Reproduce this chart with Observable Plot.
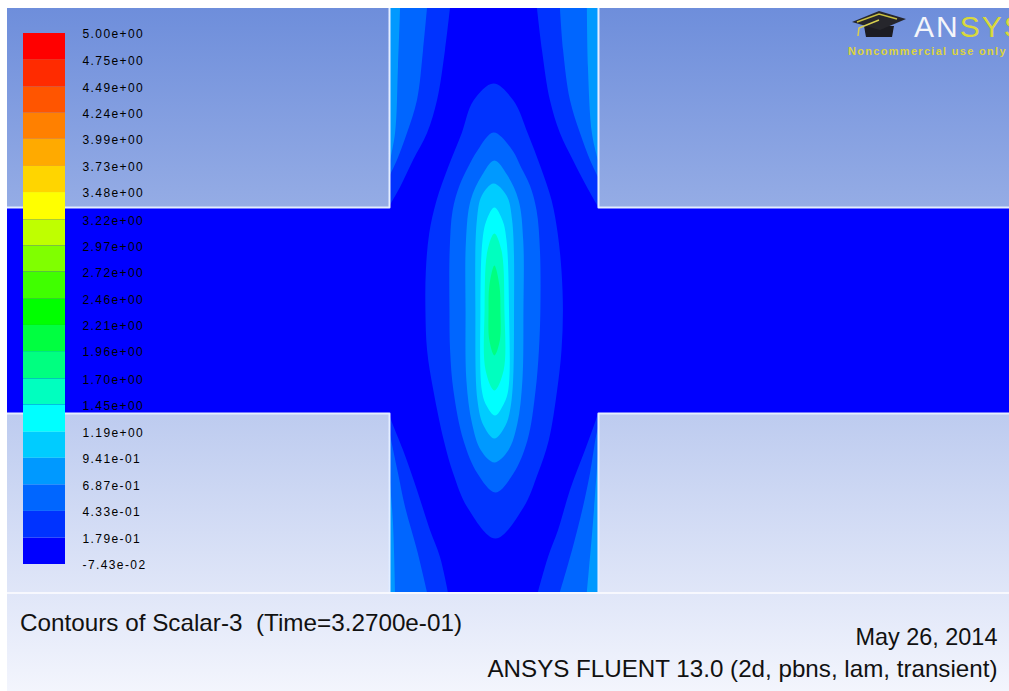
<!DOCTYPE html>
<html><head><meta charset="utf-8">
<script src="https://cdn.jsdelivr.net/npm/d3@7"></script>
<script src="https://cdn.jsdelivr.net/npm/@observablehq/plot@0.6"></script>
<style>
html,body{margin:0;padding:0;background:#fff;overflow:hidden;width:1009px;height:691px;}
#frame{position:absolute;left:7px;top:8px;width:1002px;height:683px;overflow:hidden;
 background:linear-gradient(to bottom, rgb(110,142,219), rgb(243,245,253));}
#main,#bar,#logo{position:absolute;left:0;top:0;}
#sep{position:absolute;left:0;top:584px;width:1002px;height:2px;background:#f7f8fe;}
.cap{position:absolute;font-family:"Liberation Sans",Arial,sans-serif;font-size:24px;line-height:24px;color:#111;white-space:pre;}
</style></head>
<body>
<div id="frame">
 <div id="main"></div>
 <div id="bar"></div>
 <svg id="logo" style="left:838px;top:0px" width="70" height="36">
  <polygon points="19,18 49,18 47,29 21,29" fill="#1c1c22"/>
  <polygon points="7,14 34,3 61,11 35,22" fill="#26262c"/>
  <polyline points="12,14 34,6 52,11" fill="none" stroke="#c8c040" stroke-width="1.5"/>
  <polyline points="34,12 14,20 13,28" fill="none" stroke="#d8d050" stroke-width="1.5"/>
 </svg>
 <div class="cap" style="left:907px;top:4px;font-size:30px;line-height:30px;letter-spacing:2px;"><span style="color:#f4f5fa">AN</span><span style="color:#d9d83a">SYS</span></div>
 <div class="cap" style="left:841px;top:38px;font-size:11px;line-height:11px;font-weight:bold;letter-spacing:1.3px;color:#ddd43c">Noncommercial use only</div>
 <div id="sep"></div>
 <div class="cap fit" data-w="442" data-o="left" style="left:13px;top:603px;">Contours of Scalar-3  (Time=3.2700e-01)</div>
 <div class="cap fit" data-w="142" data-o="right" style="right:12px;top:617px;">May 26, 2014</div>
 <div class="cap fit" data-w="510" data-o="right" style="right:12px;top:649px;">ANSYS FLUENT 13.0 (2d, pbns, lam, transient)</div>
</div>
<script>
// ---- contour levels (colour-bar tick labels, bottom to top) ----
const labels = ["-7.43e-02","1.79e-01","4.33e-01","6.87e-01","9.41e-01","1.19e+00","1.45e+00",
  "1.70e+00","1.96e+00","2.21e+00","2.46e+00","2.72e+00","2.97e+00","3.22e+00","3.48e+00",
  "3.73e+00","3.99e+00","4.24e+00","4.49e+00","4.75e+00","5.00e+00"];
const levels = labels.map(Number);
const bandColors = ["#0000ff","#0033ff","#0066ff","#0099ff","#00ccff","#00ffff","#00ffbf","#00ff80",
  "#00ff40","#00ff00","#40ff00","#80ff00","#bfff00","#ffff00","#ffd500","#ffaa00","#ff8000",
  "#ff5500","#ff2b00","#ff0000"];

// ---- geometry (mm): visible extent, channel half width ----
const domainX = [-23.28, 24.67];
const domainY = [-13.69, 14.66];
const half = 5;

// ---- central plume: rows [y, xLeft, xRight] of each contour level ----
const ring1 = [[11.02,-0.02,-0.02],[10.19,-0.98,0.93],[8.59,-1.55,1.62],[6.94,-2.20,2.24],[5.34,-2.75,2.76],
  [3.74,-3.10,3.05],[1.94,-3.26,3.23],[0,-3.28,3.30],[-1.94,-3.20,3.23],[-3.88,-2.90,3.02],[-6.31,-2.40,2.62],
  [-7.91,-1.95,2.10],[-9.56,-1.27,1.41],[-11.07,0.07,0.07]];
const ring2 = [[8.64,-0.02,-0.02],[7.77,-0.79,0.89],[6.94,-1.25,1.30],[6.07,-1.65,1.72],[4.85,-1.98,2.04],
  [2.91,-2.12,2.20],[0,-2.13,2.22],[-1.94,-2.10,2.15],[-3.88,-1.94,1.99],[-6.31,-1.46,1.60],[-7.91,-0.79,0.93],
  [-8.83,0.07,0.07]];
const ring3 = [[7.28,0.02,0.02],[6.55,-0.58,0.65],[5.34,-1.12,1.18],[3.40,-1.34,1.40],[0,-1.36,1.41],
  [-3.40,-1.32,1.36],[-5.49,-1.05,1.12],[-6.80,-0.62,0.68],[-7.38,0.02,0.02]];
const ring4 = [[6.17,-0.02,-0.02],[5.58,-0.58,0.60],[4.37,-0.82,0.87],[0,-0.89,0.96],[-4.37,-0.79,0.84],
  [-5.58,-0.50,0.55],[-6.21,0.02,0.02]];
const ring5 = [[5.00,0.02,0.02],[4.37,-0.36,0.41],[3.40,-0.55,0.60],[0,-0.65,0.72],[-3.88,-0.58,0.68],
  [-4.61,-0.36,0.43],[-5.10,0.05,0.05]];
const ring6 = [[3.74,0.02,0.02],[2.91,-0.31,0.36],[0,-0.45,0.50],[-2.91,-0.40,0.46],[-3.88,0.02,0.02]];
const ring7 = [[2.18,0.02,0.02],[1.21,-0.22,0.26],[0,-0.26,0.31],[-1.46,-0.22,0.28],[-2.18,0.02,0.02]];
const rings = [ring1, ring2, ring3, ring4, ring5, ring6, ring7];

// ---- wall layers in the vertical arms: rows [y, xBoundary] ----
const upLeft = [
  [[14.66,-2.08],[12.62,-2.32],[10.19,-2.70],[8.59,-3.18],[7.28,-3.85],[5.97,-4.47],[5.19,-4.90],[5.00,-5.00]],
  [[14.66,-3.18],[12.62,-3.37],[10.19,-3.66],[8.59,-4.14],[7.28,-4.62],[6.46,-5.00]],
  [[14.66,-4.47],[11.80,-4.57],[8.59,-4.71],[7.04,-5.00]]];
const upRight = [
  [[14.66,2.08],[12.62,2.32],[10.19,2.70],[8.59,3.18],[7.28,3.80],[5.97,4.47],[5.19,4.90],[5.00,5.00]],
  [[14.66,3.18],[12.62,3.33],[10.19,3.66],[8.59,4.14],[7.28,4.62],[6.46,5.00]],
  [[14.66,4.47],[11.80,4.52],[8.59,4.71],[7.28,5.00]]];
const lowLeft = [
  [[-5.00,-5.00],[-5.34,-4.90],[-6.80,-4.33],[-8.74,-3.66],[-10.68,-3.04],[-11.99,-2.56],[-13.69,-2.18]],
  [[-5.83,-5.00],[-6.31,-4.90],[-7.91,-4.57],[-9.56,-4.23],[-11.65,-3.66],[-13.69,-3.18]],
  [[-7.77,-5.00],[-10.34,-4.81],[-13.69,-4.71]]];
const lowRight = [
  [[-5.00,5.00],[-5.34,4.90],[-6.80,4.38],[-8.74,3.66],[-10.68,3.09],[-11.99,2.61],[-13.69,2.13]],
  [[-5.73,5.00],[-6.17,4.90],[-7.91,4.62],[-9.56,4.28],[-11.65,3.76],[-13.69,3.18]],
  [[-7.04,5.00],[-10.34,4.76],[-13.69,4.47]]];

const colorScale = {type: "threshold", domain: levels.slice(1, 20), range: bandColors};

function ringPolygon(rows, level) {
  const pts = rows.map(([y, xl, xr]) => ({x: xr, y, v: levels[level]}));
  for (let i = rows.length - 1; i >= 0; i--) {
    const [y, xl, xr] = rows[i];
    if (xl !== xr) pts.push({x: xl, y, v: levels[level]});
  }
  return pts;
}

const marks = [];
// fluid domain (cross-shaped channel), lowest band
const fluid = [
  {x1: domainX[0], x2: domainX[1], y1: -half, y2: half},
  {x1: -half, x2: half, y1: domainY[0], y2: domainY[1]}];
marks.push(Plot.rect(fluid, {x1: "x1", x2: "x2", y1: "y1", y2: "y2", fill: () => levels[0]}));
// wall layers
[[upLeft, -1], [upRight, 1], [lowLeft, -1], [lowRight, 1]].forEach(([layers, side]) => {
  layers.forEach((rows, i) => {
    marks.push(Plot.areaX(rows, {y: r => r[0], x1: () => side * half, x2: r => r[1],
      fill: () => levels[i + 1], curve: "catmull-rom"}));
  });
});
// plume
rings.forEach((rows, i) => {
  marks.push(Plot.line(ringPolygon(rows, i + 1), {x: "x", y: "y", fill: "v", stroke: null,
    curve: "catmull-rom-closed"}));
});
// channel walls
const walls = [
  [[domainX[0], half], [-half, half], [-half, domainY[1]]],
  [[half, domainY[1]], [half, half], [domainX[1], half]],
  [[domainX[0], -half], [-half, -half], [-half, domainY[0]]],
  [[half, domainY[0]], [half, -half], [domainX[1], -half]]];
walls.forEach(w => marks.push(Plot.line(w, {x: d => d[0], y: d => d[1], stroke: "#e4eeff", strokeWidth: 2})));

const main = Plot.plot({
  width: 1002, height: 584, margin: 0,
  x: {domain: domainX, axis: null},
  y: {domain: domainY, axis: null},
  color: colorScale,
  style: {background: "none"},
  marks
});
document.getElementById("main").appendChild(main);

// ---- colour bar ----
const labelOf = new Map(levels.map((v, i) => [v, labels[i]]));
const bar = Plot.plot({
  width: 170, height: 584, marginTop: 25, marginBottom: 28, marginLeft: 16, marginRight: 170 - 58,
  x: {domain: [0, 1], axis: null},
  y: {domain: [levels[0], levels[20]], axis: null},
  color: colorScale,
  style: {background: "none", fontFamily: "'Liberation Sans', Arial, sans-serif", fontSize: "12px",
    letterSpacing: "1.4px", color: "#000", overflow: "visible"},
  marks: [
    Plot.rect(d3.range(20), {x1: 0, x2: 1, y1: i => levels[i], y2: i => levels[i + 1], fill: i => levels[i]}),
    Plot.axisY(levels, {anchor: "right", tickSize: 0, tickPadding: 17, dy: 1,
      tickFormat: d => labelOf.get(d), fill: "#000"})
  ]
});
document.getElementById("bar").appendChild(bar);

// fit caption widths
document.querySelectorAll(".fit").forEach(el => {
  const w = el.getBoundingClientRect().width;
  const target = +el.dataset.w;
  el.style.transformOrigin = el.dataset.o + " center";
  el.style.transform = `scaleX(${target / w})`;
});
</script>
</body></html>
